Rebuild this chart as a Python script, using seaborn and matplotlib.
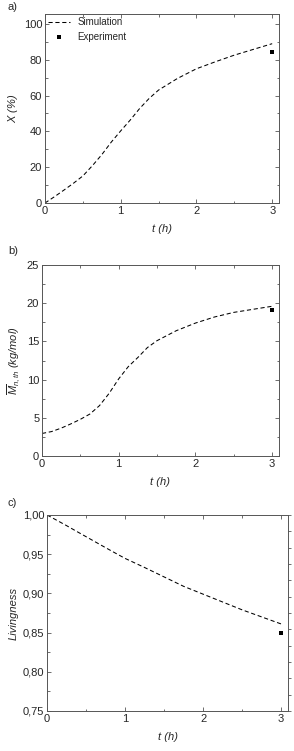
import numpy as np
import pandas as pd
import matplotlib
matplotlib.use("Agg")
import matplotlib.pyplot as plt
import seaborn as sns
from matplotlib.ticker import MultipleLocator, FuncFormatter, NullFormatter

# values
t_sim = [0.0, 0.125, 0.25, 0.375, 0.5, 0.625, 0.75, 0.875, 1.0, 1.125, 1.25,
         1.375, 1.5, 1.75, 2.0, 2.25, 2.5, 2.75, 3.0]
conv_sim = [0.0, 3.5, 7.2, 11.0, 15.1, 20.8, 27.0, 34.0, 40.3, 46.3, 52.8,
            58.4, 63.1, 69.6, 75.0, 78.9, 82.6, 85.8, 89.0]
mn_sim = [2.95, 3.2, 3.65, 4.2, 4.8, 5.5, 6.6, 8.2, 10.1, 11.7, 12.9,
          14.2, 15.1, 16.4, 17.4, 18.2, 18.8, 19.2, 19.6]
liv_sim = [1.0, 0.9932, 0.9864, 0.9793, 0.9723, 0.9653, 0.9583, 0.9514, 0.9446,
           0.9388, 0.933, 0.927, 0.921, 0.909, 0.899, 0.889, 0.879, 0.870, 0.861]

t_exp = [3.0]
conv_exp = [84.3]
mn_exp = [19.1]
liv_exp = [0.85]

sns.set_style("ticks")
plt.rcParams["font.family"] = ["Liberation Sans", "DejaVu Sans"]
plt.rcParams["mathtext.fontset"] = "custom"
plt.rcParams["mathtext.rm"] = "Liberation Sans"
plt.rcParams["mathtext.it"] = "Liberation Sans:italic"
plt.rcParams["font.size"] = 8

sim = pd.DataFrame({"t": t_sim, "X": conv_sim, "Mn": mn_sim, "L": liv_sim})
exp = pd.DataFrame({"t": t_exp, "X": conv_exp, "Mn": mn_exp, "L": liv_exp})

fig = plt.figure(figsize=(2.94, 7.51), dpi=100)
ax_a = fig.add_axes([0.153, 0.7297, 0.796, 0.2517])
ax_b = fig.add_axes([0.1429, 0.3928, 0.806, 0.2543])
ax_c = fig.add_axes([0.160, 0.0533, 0.820, 0.261])

comma = FuncFormatter(lambda v, p: f"{v:.2f}".replace(".", ","))
grey = "#555555"

panels = [
    (ax_a, "X", r"$X$ (%)", (0, 105.6), 20, 10, None),
    (ax_b, "Mn", r"$\overline{M}_{n,th}$ (kg/mol)", (0, 25), 5, 2.5, None),
    (ax_c, "L", "Livingness", (0.75, 1.0), 0.05, 0.025, comma),
]

for ax, col, ylab, ylim, maj, mnr, fmt in panels:
    sns.lineplot(data=sim, x="t", y=col, ax=ax, color="black", lw=0.75,
                 linestyle=(0, (4, 2.6)), label="Simulation")
    sns.scatterplot(data=exp, x="t", y=col, ax=ax, color="black", marker="s",
                    s=9, edgecolor="black", linewidth=0, label="Experiment", zorder=3)
    ax.set_xlim(0, 3.09)
    ax.set_ylim(*ylim)
    ax.xaxis.set_major_locator(MultipleLocator(1))
    ax.xaxis.set_minor_locator(MultipleLocator(0.5))
    ax.yaxis.set_major_locator(MultipleLocator(maj))
    ax.yaxis.set_minor_locator(MultipleLocator(mnr))
    if fmt is not None:
        ax.yaxis.set_major_formatter(fmt)
    ax.tick_params(which="both", direction="in", top=True, right=True,
                   width=0.6, labelsize=8, pad=2, color=grey)
    ax.tick_params(which="major", length=3)
    ax.tick_params(which="minor", length=1.8)
    for s in ax.spines.values():
        s.set_linewidth(0.7)
        s.set_color(grey)
    ax.set_xlabel("t (h)", fontstyle="italic", fontsize=8, labelpad=6)
    ax.set_ylabel(ylab, fontstyle="italic", fontsize=8, labelpad=3)
    if ax is ax_a:
        ax.legend(loc="upper left", frameon=False, fontsize=7,
                  handlelength=2.2, borderaxespad=0.0, borderpad=0.35,
                  labelspacing=0.45, handletextpad=0.8)
    else:
        ax.get_legend().remove()

# panel c has its own unlabelled outward ticks on the right side
ax_c.tick_params(axis="y", which="both", right=False)
ax_r = ax_c.twinx()
ax_r.set_ylim(0, 12)
ax_r.yaxis.set_major_locator(MultipleLocator(1))
ax_r.yaxis.set_major_formatter(NullFormatter())
ax_r.tick_params(axis="y", direction="out", length=2.5, width=0.6, color=grey)
for s in ax_r.spines.values():
    s.set_visible(False)

fig.text(8 / 294, 1 - 7 / 751, "a)", fontsize=8, va="center")
fig.text(8 / 294, 1 - 251 / 751, "b)", fontsize=8, va="center")
fig.text(8 / 294, 1 - 503 / 751, "c)", fontsize=8, va="center")

fig.savefig("out.png", dpi=100)
